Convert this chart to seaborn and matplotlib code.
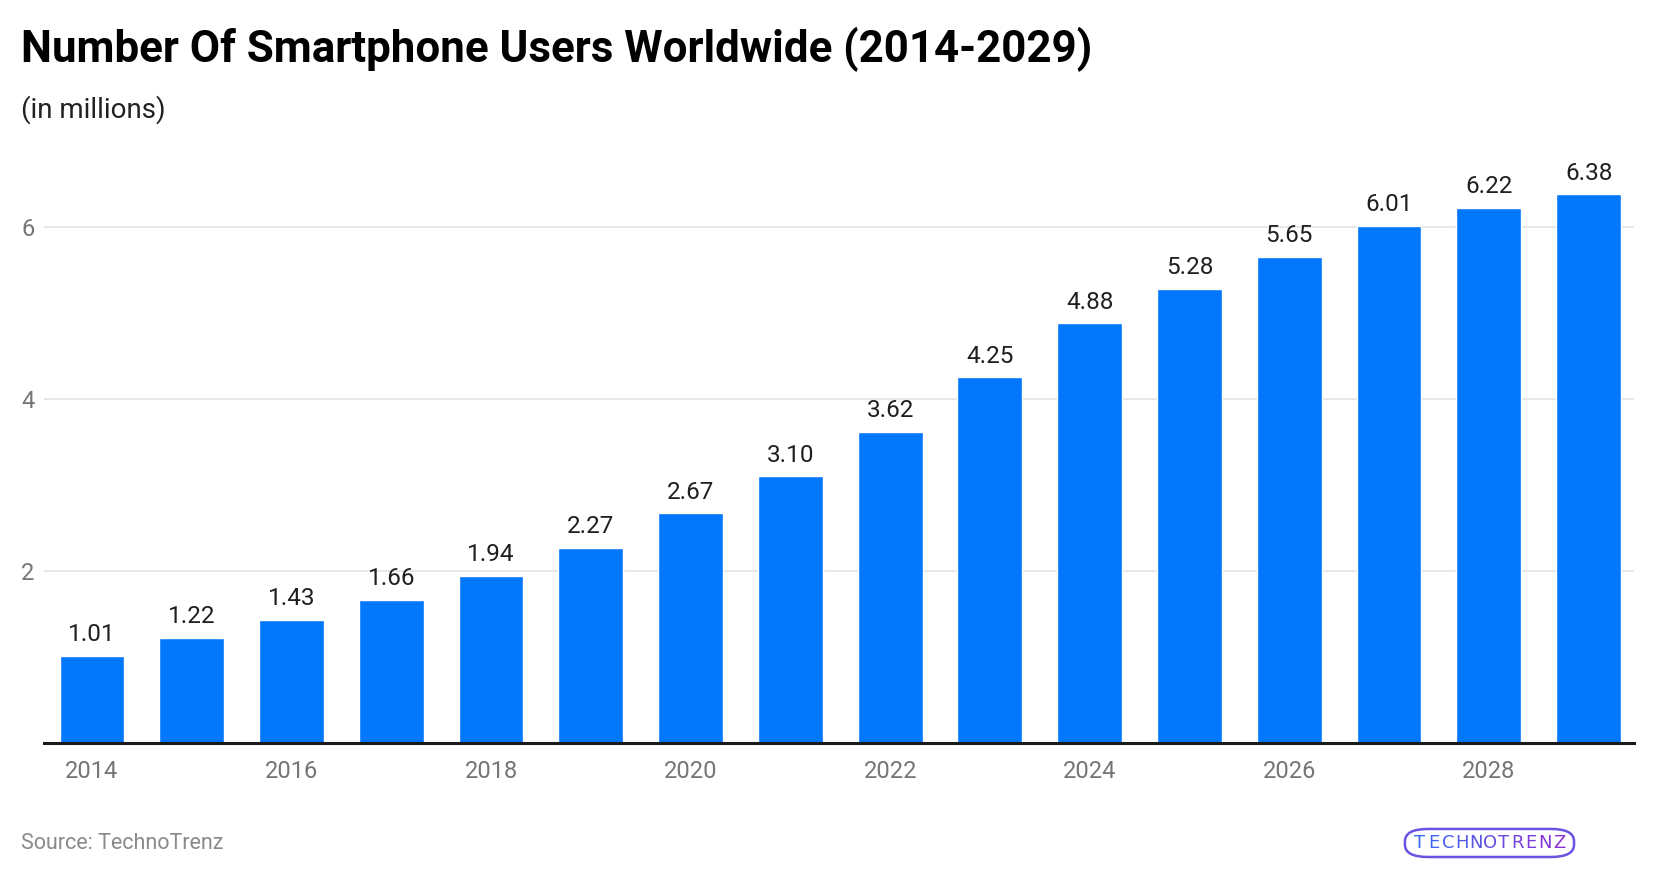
import matplotlib
matplotlib.use("Agg")
import matplotlib.pyplot as plt
from matplotlib.patches import FancyBboxPatch
import seaborn as sns
import pandas as pd

# Chart data
years = [2014, 2015, 2016, 2017, 2018, 2019, 2020, 2021,
         2022, 2023, 2024, 2025, 2026, 2027, 2028, 2029]
users = [1.01, 1.22, 1.43, 1.66, 1.94, 2.27, 2.67, 3.10,
         3.62, 4.25, 4.88, 5.28, 5.65, 6.01, 6.22, 6.38]
value_labels = ["1.01", "1.22", "1.43", "1.66", "1.94", "2.27", "2.67", "3.10",
                "3.62", "4.25", "4.88", "5.28", "5.65", "6.01", "6.22", "6.38"]
y_ticks = [2, 4, 6]

title = "Number Of Smartphone Users Worldwide (2014-2029)"
subtitle = "(in millions)"
source = "Source: TechnoTrenz"
logo_text = "TECHNOTRENZ"

BAR_COLOR = "#0177FB"

sns.set_style("white")
plt.rcParams["font.family"] = ["Roboto", "DejaVu Sans"]

df = pd.DataFrame({"year": [str(y) for y in years], "users": users})

fig = plt.figure(figsize=(16.56, 8.76), dpi=100)
ax = fig.add_axes([0.0266, 0.152, 0.9604, 0.687])

sns.barplot(data=df, x="year", y="users", color=BAR_COLOR, width=0.65,
            saturation=1, ax=ax)

# value labels above bars
for i, (v, lab) in enumerate(zip(users, value_labels)):
    ax.annotate(lab, (i, v), xytext=(0, 7), textcoords="offset points",
                ha="center", va="bottom", fontsize=17.5, color="#1f1f1f")

ax.set_xlim(-0.48, len(years) - 1 + 0.46)
ax.set_ylim(0, 7.0)
ax.set_yticks(y_ticks)
ax.set_yticklabels([str(t) for t in y_ticks])
ax.set_xticks(range(0, len(years), 2))
ax.set_xticklabels([str(y) for y in years[::2]])
ax.tick_params(axis="both", length=0, labelsize=17, labelcolor="#757575")
ax.tick_params(axis="x", pad=12)
ax.tick_params(axis="y", pad=7)
ax.set_xlabel("")
ax.set_ylabel("")

ax.grid(axis="y", color="#e3e3e3", linewidth=1.2)
ax.set_axisbelow(True)
for s in ["top", "right", "left"]:
    ax.spines[s].set_visible(False)
ax.spines["bottom"].set_color("#1a1a1a")
ax.spines["bottom"].set_linewidth(2.2)

fig.text(0.0125, 0.944, title, fontsize=31.6, fontweight="bold",
         color="#000000", ha="left", va="center")
fig.text(0.0125, 0.875, subtitle, fontsize=20, color="#222222",
         ha="left", va="center")
fig.text(0.0125, 0.037, source, fontsize=15.5, color="#8a8a8a",
         ha="left", va="center")

# logo: letters fading from blue to purple inside a rounded outline
blue = (0.23, 0.42, 0.94)
purple = (0.55, 0.19, 0.84)
n = len(logo_text)
x0, x1 = 0.8575, 0.9415
for k, ch in enumerate(logo_text):
    t = k / (n - 1)
    c = tuple(blue[j] + (purple[j] - blue[j]) * t for j in range(3))
    fig.text(x0 + (x1 - x0) * t, 0.0375, ch, fontsize=13, color=c,
             ha="center", va="center", family="DejaVu Sans")
fig.patches.append(FancyBboxPatch(
    (0.8484, 0.0217), 0.1021, 0.032,
    boxstyle="round,pad=0,rounding_size=0.014",
    transform=fig.transFigure, fc="none", ec="#6a52e2", lw=1.8))

fig.savefig("out.png", dpi=100, facecolor="white")
